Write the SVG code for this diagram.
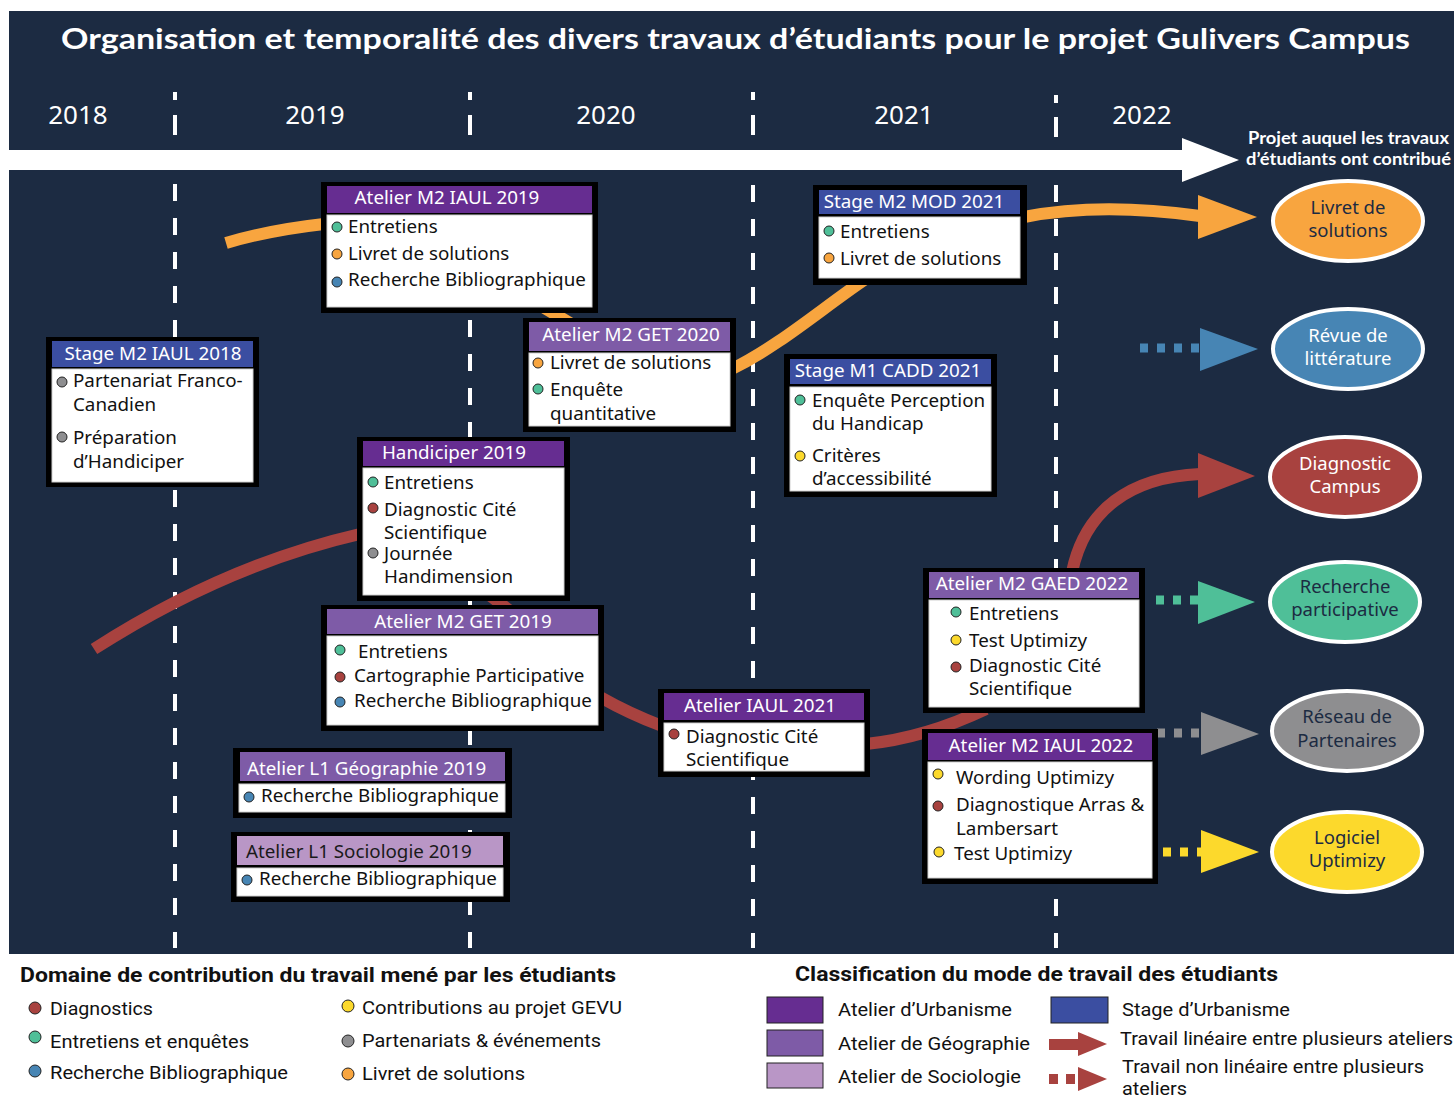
<svg xmlns="http://www.w3.org/2000/svg" width="1454" height="1099" viewBox="0 0 1454 1099">
  <defs>
    <style>
      .bg { fill: #1c2b42; }
      .vline { stroke: #ffffff; stroke-width: 4; stroke-dasharray: 17 17; }
      .tick { fill: #ffffff; }
      .title { font-family: Lato, "Noto Sans", sans-serif; font-weight: 700; font-size: 29px; fill: #ffffff; }
      .year { font-family: "Noto Sans", sans-serif; font-size: 26px; fill: #ffffff; text-anchor: middle; }
      .proj { font-family: Lato, "Noto Sans", sans-serif; font-weight: 700; font-size: 16.5px; fill: #ffffff; }
      .frame { fill: #000000; }
      .body { fill: #ffffff; stroke: #d0d0d0; stroke-width: 1; }
      .urb { fill: #662d91; }
      .geo { fill: #7e5ba7; }
      .soc { fill: #b996c6; }
      .stage { fill: #3b4ea1; }
      .hd { font-family: "Noto Sans", sans-serif; font-size: 18.8px; fill: #ffffff; text-anchor: middle; }
      .hdl { font-family: "Noto Sans", sans-serif; font-size: 18.8px; fill: #ffffff; }
      .bt { font-family: "Noto Sans", sans-serif; font-size: 18.8px; fill: #111111; }
      .dot { stroke: #222222; stroke-width: 1; }
      .c-red { fill: #a8423f; }
      .c-green { fill: #4fbf98; }
      .c-blue { fill: #4785b4; }
      .c-gray { fill: #8e8e90; }
      .c-yellow { fill: #fcd92c; }
      .c-orange { fill: #f8a53f; }
      .link-o { fill: none; stroke: #f8a53f; stroke-width: 12; }
      .link-r { fill: none; stroke: #a8423f; stroke-width: 12; }
      .dots { fill: none; stroke-width: 9; stroke-dasharray: 8 9; }
      .goal { stroke: #ffffff; stroke-width: 4; }
      .gt { font-family: "Noto Sans", sans-serif; font-size: 18.5px; text-anchor: middle; }
      .lgh { font-family: "Liberation Sans Narrow", Roboto, "Liberation Sans", sans-serif; font-weight: 700; font-size: 21px; fill: #111111; }
      .lg { font-family: "Liberation Sans Narrow", Roboto, "Liberation Sans", sans-serif; font-size: 19px; fill: #111111; }
      .sw { stroke: #222222; stroke-width: 1; }
    </style>
  </defs>

  <!-- page -->
  <rect x="0" y="0" width="1454" height="1099" fill="#ffffff"/>
  <rect class="bg" x="9" y="11" width="1445" height="943"/>

  <!-- title and years -->
  <text class="title" x="61" y="49" textLength="1349" lengthAdjust="spacingAndGlyphs">Organisation et temporalité des divers travaux d’étudiants pour le projet Gulivers Campus</text>
  <text class="year" x="78" y="124">2018</text>
  <text class="year" x="315" y="124">2019</text>
  <text class="year" x="606" y="124">2020</text>
  <text class="year" x="904" y="124">2021</text>
  <text class="year" x="1142" y="124">2022</text>

  <!-- year separators -->
  <g id="separators">
    <rect class="tick" x="173" y="92" width="4" height="8"/>
    <rect class="tick" x="173" y="115" width="4" height="20"/>
    <rect class="tick" x="468" y="92" width="4" height="8"/>
    <rect class="tick" x="468" y="115" width="4" height="20"/>
    <rect class="tick" x="751" y="92" width="4" height="8"/>
    <rect class="tick" x="751" y="115" width="4" height="20"/>
    <rect class="tick" x="1054" y="95" width="4" height="8"/>
    <rect class="tick" x="1054" y="117" width="4" height="20"/>
    <line class="vline" x1="175" y1="184" x2="175" y2="948"/>
    <line class="vline" x1="470" y1="184" x2="470" y2="948"/>
    <line class="vline" x1="753" y1="185" x2="753" y2="948"/>
    <line class="vline" x1="1056" y1="185" x2="1056" y2="948"/>
  </g>

  <!-- time axis -->
  <g id="time-axis">
    <rect x="0" y="150" width="1184" height="20" fill="#ffffff"/>
    <polygon points="1182,138 1239,160 1182,182" fill="#ffffff"/>
    <text class="proj" x="1248" y="144" textLength="201" lengthAdjust="spacingAndGlyphs">Projet auquel les travaux</text>
    <text class="proj" x="1246" y="165" textLength="205" lengthAdjust="spacingAndGlyphs">d’étudiants ont contribué</text>
  </g>

  <!-- connectors -->
  <g id="connectors">
    <!-- livret de solutions thread -->
    <path class="link-o" d="M226,243 Q270,230 324,224"/>
    <path class="link-o" d="M538,304 L578,328"/>
    <path class="link-o" d="M732,369 C780,345 820,310 864,280"/>
    <path class="link-o" d="M1024,217 Q1100,202 1200,216"/>
    <polygon class="c-orange" points="1198,195 1257,217 1198,239"/>
    <!-- diagnostic thread -->
    <path class="link-r" d="M94,649 Q225,565 360,534"/>
    <path class="link-r" d="M488,594 L514,614"/>
    <path class="link-r" d="M600,697 Q630,714 662,726"/>
    <path class="link-r" d="M866,744 Q925,738 986,709"/>
    <path class="link-r" d="M1072,572 C1085,510 1130,477 1200,474"/>
    <polygon class="c-red" points="1198,453 1255,476 1198,498"/>
    <!-- non-linear contributions -->
    <line class="dots" x1="1140" y1="348" x2="1202" y2="348" stroke="#4785b4"/>
    <polygon class="c-blue" points="1200,328 1258,349 1200,371"/>
    <line class="dots" x1="1156" y1="600" x2="1200" y2="600" stroke="#4fbf98"/>
    <polygon class="c-green" points="1198,581 1255,602 1198,624"/>
    <line class="dots" x1="1157" y1="733" x2="1202" y2="733" stroke="#8e8e90"/>
    <polygon class="c-gray" points="1201,712 1259,734 1201,755"/>
    <line class="dots" x1="1163" y1="852" x2="1202" y2="852" stroke="#fcd92c"/>
    <polygon class="c-yellow" points="1201,830 1259,852 1201,873"/>
  </g>

  <!-- student works -->
  <g id="stage-m2-iaul-2018">
    <rect class="frame" x="46" y="337" width="213" height="150"/>
    <rect class="stage" x="52" y="341" width="201" height="26"/>
    <rect class="body" x="52" y="369" width="201" height="113"/>
    <text class="hd" x="153" y="360">Stage M2 IAUL 2018</text>
    <circle class="dot c-gray" cx="62" cy="382" r="5"/>
    <text class="bt" x="73" y="387">Partenariat Franco-</text>
    <text class="bt" x="73" y="411">Canadien</text>
    <circle class="dot c-gray" cx="62" cy="437" r="5"/>
    <text class="bt" x="73" y="444">Préparation</text>
    <text class="bt" x="73" y="468">d’Handiciper</text>
  </g>

  <g id="atelier-m2-iaul-2019">
    <rect class="frame" x="321" y="182" width="277" height="131"/>
    <rect class="urb" x="327" y="186" width="265" height="27"/>
    <rect class="body" x="327" y="215" width="265" height="92"/>
    <text class="hd" x="447" y="204">Atelier M2 IAUL 2019</text>
    <circle class="dot c-green" cx="337" cy="227" r="5"/>
    <text class="bt" x="348" y="233">Entretiens</text>
    <circle class="dot c-orange" cx="337" cy="254" r="5"/>
    <text class="bt" x="348" y="260">Livret de solutions</text>
    <circle class="dot c-blue" cx="337" cy="282" r="5"/>
    <text class="bt" x="348" y="286">Recherche Bibliographique</text>
  </g>

  <g id="atelier-m2-get-2020">
    <rect class="frame" x="523" y="318" width="213" height="114"/>
    <rect class="geo" x="529" y="322" width="201" height="29"/>
    <rect class="body" x="529" y="353" width="201" height="73"/>
    <text class="hd" x="631" y="341">Atelier M2 GET 2020</text>
    <circle class="dot c-orange" cx="538" cy="363" r="5"/>
    <text class="bt" x="550" y="369">Livret de solutions</text>
    <circle class="dot c-green" cx="538" cy="389" r="5"/>
    <text class="bt" x="550" y="396">Enquête</text>
    <text class="bt" x="550" y="420">quantitative</text>
  </g>

  <g id="stage-m2-mod-2021">
    <rect class="frame" x="813" y="185" width="214" height="100"/>
    <rect class="stage" x="819" y="190" width="201" height="24"/>
    <rect class="body" x="819" y="217" width="201" height="61"/>
    <text class="hd" x="914" y="208">Stage M2 MOD 2021</text>
    <circle class="dot c-green" cx="829" cy="231" r="5"/>
    <text class="bt" x="840" y="238">Entretiens</text>
    <circle class="dot c-orange" cx="829" cy="258" r="5"/>
    <text class="bt" x="840" y="265">Livret de solutions</text>
  </g>

  <g id="stage-m1-cadd-2021">
    <rect class="frame" x="784" y="354" width="213" height="143"/>
    <rect class="stage" x="790" y="359" width="201" height="25"/>
    <rect class="body" x="790" y="387" width="201" height="104"/>
    <text class="hd" x="888" y="377">Stage M1 CADD 2021</text>
    <circle class="dot c-green" cx="800" cy="400" r="5"/>
    <text class="bt" x="812" y="407">Enquête Perception</text>
    <text class="bt" x="812" y="430">du Handicap</text>
    <circle class="dot c-yellow" cx="800" cy="456" r="5"/>
    <text class="bt" x="812" y="462">Critères</text>
    <text class="bt" x="812" y="485">d’accessibilité</text>
  </g>

  <g id="handiciper-2019">
    <rect class="frame" x="357" y="437" width="213" height="164"/>
    <rect class="urb" x="363" y="441" width="201" height="25"/>
    <rect class="body" x="363" y="468" width="201" height="127"/>
    <text class="hd" x="454" y="459">Handiciper 2019</text>
    <circle class="dot c-green" cx="373" cy="482" r="5"/>
    <text class="bt" x="384" y="489">Entretiens</text>
    <circle class="dot c-red" cx="373" cy="508" r="5"/>
    <text class="bt" x="384" y="516">Diagnostic Cité</text>
    <text class="bt" x="384" y="539">Scientifique</text>
    <circle class="dot c-gray" cx="373" cy="553" r="5"/>
    <text class="bt" x="384" y="560">Journée</text>
    <text class="bt" x="384" y="583">Handimension</text>
  </g>

  <g id="atelier-m2-get-2019">
    <rect class="frame" x="321" y="605" width="283" height="126"/>
    <rect class="geo" x="327" y="609" width="271" height="25"/>
    <rect class="body" x="327" y="636" width="271" height="89"/>
    <text class="hd" x="463" y="628">Atelier M2 GET 2019</text>
    <circle class="dot c-green" cx="340" cy="650" r="5"/>
    <text class="bt" x="358" y="658">Entretiens</text>
    <circle class="dot c-red" cx="340" cy="677" r="5"/>
    <text class="bt" x="354" y="682">Cartographie Participative</text>
    <circle class="dot c-blue" cx="340" cy="702" r="5"/>
    <text class="bt" x="354" y="707">Recherche Bibliographique</text>
  </g>

  <g id="atelier-l1-geographie-2019">
    <rect class="frame" x="233" y="748" width="279" height="70"/>
    <rect class="geo" x="240" y="752" width="265" height="29"/>
    <rect class="body" x="239" y="784" width="266" height="28"/>
    <text class="hdl" x="247" y="775">Atelier L1 Géographie 2019</text>
    <circle class="dot c-blue" cx="249" cy="797" r="5"/>
    <text class="bt" x="261" y="802">Recherche Bibliographique</text>
  </g>

  <g id="atelier-l1-sociologie-2019">
    <rect class="frame" x="231" y="832" width="279" height="70"/>
    <rect class="soc" x="237" y="836" width="266" height="29"/>
    <rect class="body" x="237" y="868" width="266" height="28"/>
    <text class="hdl" x="246" y="858" style="fill:#1a1a1a">Atelier L1 Sociologie 2019</text>
    <circle class="dot c-blue" cx="247" cy="880" r="5"/>
    <text class="bt" x="259" y="885">Recherche Bibliographique</text>
  </g>

  <g id="atelier-iaul-2021">
    <rect class="frame" x="658" y="689" width="212" height="88"/>
    <rect class="urb" x="664" y="693" width="200" height="27"/>
    <rect class="body" x="664" y="723" width="200" height="48"/>
    <text class="hd" x="760" y="712">Atelier IAUL 2021</text>
    <circle class="dot c-red" cx="674" cy="734" r="5"/>
    <text class="bt" x="686" y="743">Diagnostic Cité</text>
    <text class="bt" x="686" y="766">Scientifique</text>
  </g>

  <g id="atelier-m2-gaed-2022">
    <rect class="frame" x="923" y="568" width="222" height="145"/>
    <rect class="geo" x="929" y="572" width="210" height="26"/>
    <rect class="body" x="929" y="600" width="210" height="107"/>
    <text class="hd" x="1032" y="590">Atelier M2 GAED 2022</text>
    <circle class="dot c-green" cx="956" cy="612" r="5"/>
    <text class="bt" x="969" y="620">Entretiens</text>
    <circle class="dot c-yellow" cx="956" cy="640" r="5"/>
    <text class="bt" x="969" y="647">Test Uptimizy</text>
    <circle class="dot c-red" cx="956" cy="667" r="5"/>
    <text class="bt" x="969" y="672">Diagnostic Cité</text>
    <text class="bt" x="969" y="695">Scientifique</text>
  </g>

  <g id="atelier-m2-iaul-2022">
    <rect class="frame" x="922" y="729" width="236" height="155"/>
    <rect class="urb" x="928" y="733" width="224" height="27"/>
    <rect class="body" x="928" y="762" width="224" height="116"/>
    <text class="hd" x="1041" y="752">Atelier M2 IAUL 2022</text>
    <circle class="dot c-yellow" cx="938" cy="774" r="5"/>
    <text class="bt" x="956" y="784">Wording Uptimizy</text>
    <circle class="dot c-red" cx="938" cy="806" r="5"/>
    <text class="bt" x="956" y="811">Diagnostique Arras &amp;</text>
    <text class="bt" x="956" y="835">Lambersart</text>
    <circle class="dot c-yellow" cx="939" cy="852" r="5"/>
    <text class="bt" x="954" y="860">Test Uptimizy</text>
  </g>

  <!-- project outcomes -->
  <g id="goal-livret">
    <ellipse class="goal c-orange" cx="1348" cy="221" rx="75" ry="40"/>
    <text class="gt" x="1348" y="214" fill="#1c2b42">Livret de</text>
    <text class="gt" x="1348" y="237" fill="#1c2b42">solutions</text>
  </g>
  <g id="goal-revue">
    <ellipse class="goal c-blue" cx="1348" cy="349" rx="75" ry="40"/>
    <text class="gt" x="1348" y="342" fill="#ffffff">Révue de</text>
    <text class="gt" x="1348" y="365" fill="#ffffff">littérature</text>
  </g>
  <g id="goal-diagnostic">
    <ellipse class="goal c-red" cx="1345" cy="477" rx="75" ry="40"/>
    <text class="gt" x="1345" y="470" fill="#ffffff">Diagnostic</text>
    <text class="gt" x="1345" y="493" fill="#ffffff">Campus</text>
  </g>
  <g id="goal-recherche">
    <ellipse class="goal c-green" cx="1345" cy="602" rx="75" ry="40"/>
    <text class="gt" x="1345" y="593" fill="#1c2b42">Recherche</text>
    <text class="gt" x="1345" y="616" fill="#1c2b42">participative</text>
  </g>
  <g id="goal-reseau">
    <ellipse class="goal c-gray" cx="1347" cy="731" rx="75" ry="40"/>
    <text class="gt" x="1347" y="723" fill="#1c2b42">Réseau de</text>
    <text class="gt" x="1347" y="747" fill="#1c2b42">Partenaires</text>
  </g>
  <g id="goal-uptimizy">
    <ellipse class="goal c-yellow" cx="1347" cy="852" rx="75" ry="40"/>
    <text class="gt" x="1347" y="844" fill="#1c2b42">Logiciel</text>
    <text class="gt" x="1347" y="867" fill="#1c2b42">Uptimizy</text>
  </g>

  <!-- legend: contribution domains -->
  <g id="legend-domains">
    <text class="lgh" x="20" y="982" textLength="596" lengthAdjust="spacingAndGlyphs">Domaine de contribution du travail mené par les étudiants</text>
    <circle class="dot c-red" cx="35" cy="1008" r="6"/>
    <text class="lg" x="50" y="1015" textLength="103" lengthAdjust="spacingAndGlyphs">Diagnostics</text>
    <circle class="dot c-green" cx="35" cy="1037" r="6"/>
    <text class="lg" x="50" y="1048" textLength="199" lengthAdjust="spacingAndGlyphs">Entretiens et enquêtes</text>
    <circle class="dot c-blue" cx="35" cy="1071" r="6"/>
    <text class="lg" x="50" y="1079" textLength="238" lengthAdjust="spacingAndGlyphs">Recherche Bibliographique</text>
    <circle class="dot c-yellow" cx="348" cy="1006" r="6"/>
    <text class="lg" x="362" y="1014" textLength="260" lengthAdjust="spacingAndGlyphs">Contributions au projet GEVU</text>
    <circle class="dot c-gray" cx="348" cy="1041" r="6"/>
    <text class="lg" x="362" y="1047" textLength="239" lengthAdjust="spacingAndGlyphs">Partenariats &amp; événements</text>
    <circle class="dot c-orange" cx="348" cy="1074" r="6"/>
    <text class="lg" x="362" y="1080" textLength="163" lengthAdjust="spacingAndGlyphs">Livret de solutions</text>
  </g>

  <!-- legend: work modes -->
  <g id="legend-modes">
    <text class="lgh" x="795" y="981" textLength="483" lengthAdjust="spacingAndGlyphs">Classification du mode de travail des étudiants</text>
    <rect class="urb sw" x="767" y="997" width="56" height="26"/>
    <text class="lg" x="838" y="1016" textLength="174" lengthAdjust="spacingAndGlyphs">Atelier d’Urbanisme</text>
    <rect class="geo sw" x="767" y="1030" width="56" height="26"/>
    <text class="lg" x="838" y="1050" textLength="192" lengthAdjust="spacingAndGlyphs">Atelier de Géographie</text>
    <rect class="soc sw" x="767" y="1063" width="56" height="25"/>
    <text class="lg" x="838" y="1083" textLength="183" lengthAdjust="spacingAndGlyphs">Atelier de Sociologie</text>
    <rect class="stage sw" x="1051" y="997" width="57" height="26"/>
    <text class="lg" x="1122" y="1016" textLength="168" lengthAdjust="spacingAndGlyphs">Stage d’Urbanisme</text>
    <rect class="c-red" x="1049" y="1039" width="31" height="11"/>
    <polygon class="c-red" points="1078,1032 1107,1044 1078,1056"/>
    <text class="lg" x="1120" y="1045" textLength="333" lengthAdjust="spacingAndGlyphs">Travail linéaire entre plusieurs ateliers</text>
    <rect class="c-red" x="1049" y="1074" width="9" height="10"/>
    <rect class="c-red" x="1066" y="1074" width="9" height="10"/>
    <polygon class="c-red" points="1078,1067 1107,1079 1078,1091"/>
    <text class="lg" x="1122" y="1073" textLength="302" lengthAdjust="spacingAndGlyphs">Travail non linéaire entre plusieurs</text>
    <text class="lg" x="1122" y="1095" textLength="65" lengthAdjust="spacingAndGlyphs">ateliers</text>
  </g>
</svg>
